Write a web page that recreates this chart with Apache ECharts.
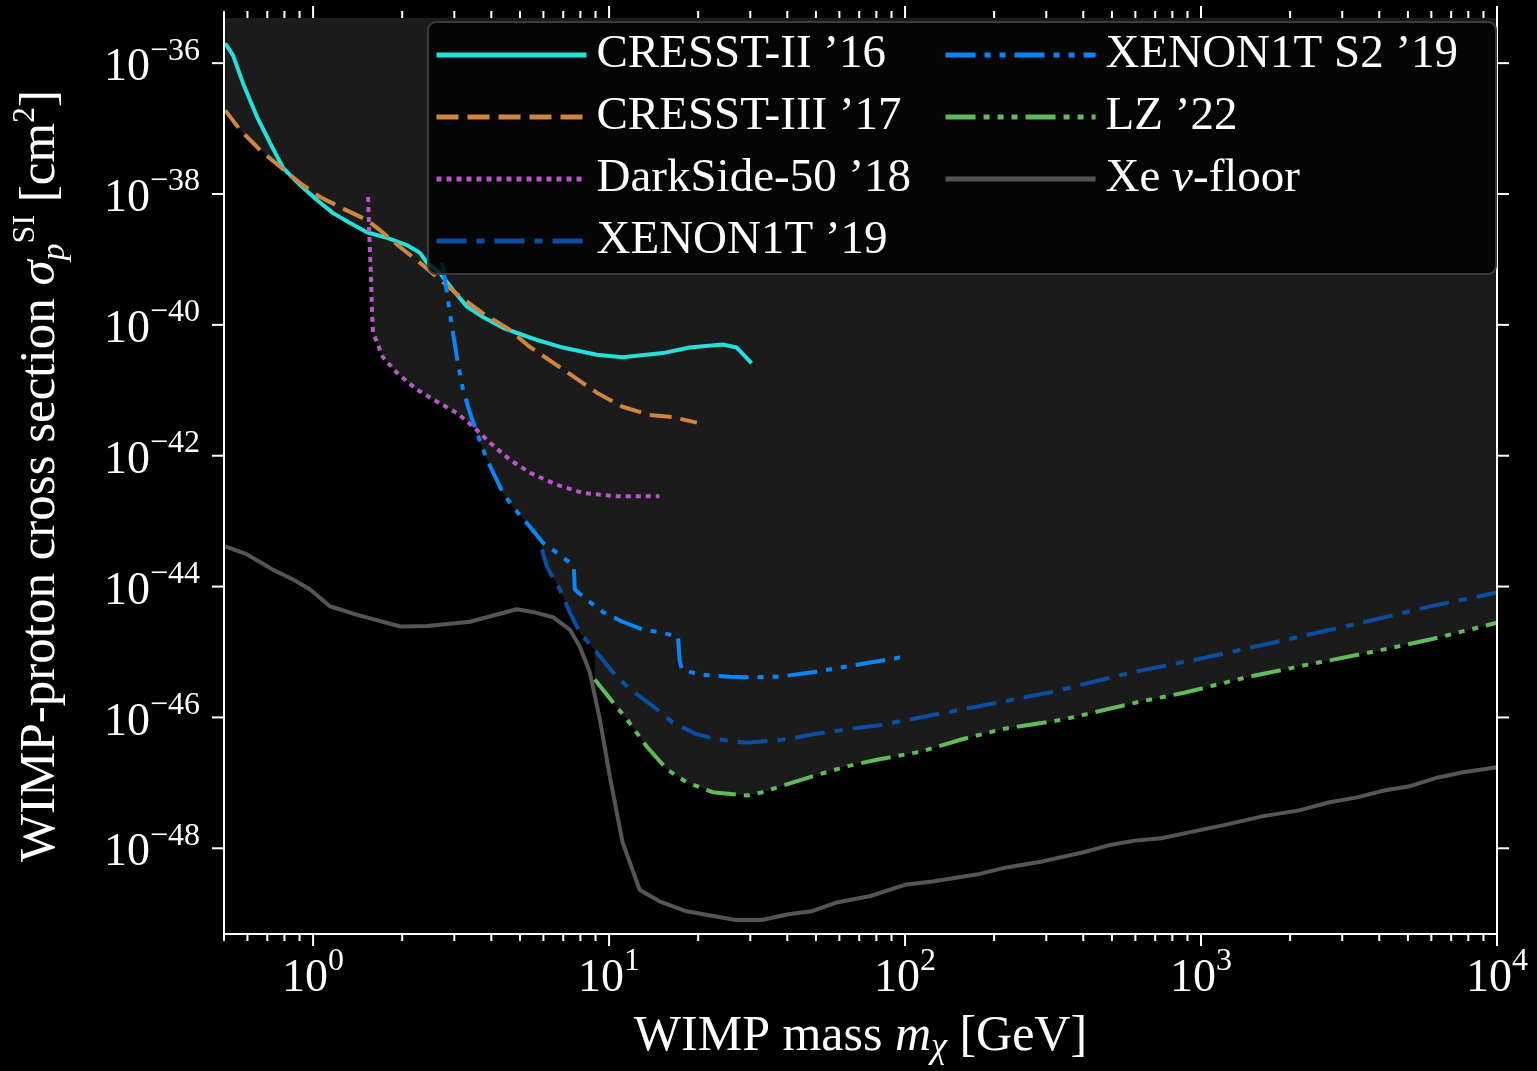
<!DOCTYPE html>
<html>
<head>
<meta charset="utf-8">
<title>WIMP-proton exclusion limits</title>
<script src="https://cdn.jsdelivr.net/npm/echarts@6/dist/echarts.min.js"></script>
<style>
  html, body { margin: 0; padding: 0; background: #000; }
  #chart { width: 1537px; height: 1071px; }
</style>
</head>
<body>
<div id="chart"></div>
<script>
// [WIMP mass (GeV), cross section (cm^2)]
const cresst2 = [
  [0.505, 2.0e-36], [0.537, 1.3e-36], [0.58, 4.9e-37], [0.647, 1.5e-37], [0.716, 6.0e-38],
  [0.792, 2.5e-38], [0.904, 1.37e-38], [1.03, 8.1e-39], [1.168, 5.1e-39], [1.333, 3.6e-39],
  [1.52, 2.6e-39], [1.778, 2.13e-39], [2.075, 1.66e-39], [2.296, 1.26e-39], [2.426, 8.9e-40],
  [2.683, 6.2e-40], [2.97, 3.4e-40], [3.31, 1.9e-40], [3.75, 1.32e-40], [4.38, 9.0e-41],
  [5.11, 7.0e-41], [5.7, 5.9e-41], [6.98, 4.5e-41], [9.09, 3.5e-41], [11.1, 3.2e-41],
  [15.2, 3.7e-41], [18.7, 4.5e-41], [24.2, 5.0e-41], [27.0, 4.5e-41], [30.3, 2.6e-41]
];
const cresst3 = [
  [0.505, 1.9e-37], [0.567, 9.5e-38], [0.662, 4.7e-38], [0.774, 2.6e-38], [0.904, 1.47e-38],
  [1.056, 9.0e-39], [1.233, 6.3e-39], [1.52, 4.0e-39], [1.683, 2.8e-39], [1.966, 1.55e-39],
  [2.296, 8.9e-40], [2.683, 4.9e-40], [3.135, 2.7e-40], [3.75, 1.5e-40], [4.52, 9.0e-41],
  [5.4, 4.6e-41], [6.98, 2.1e-41], [9.09, 9.2e-42], [11.1, 5.6e-42], [13.7, 4.2e-42],
  [16.4, 3.9e-42], [19.8, 3.2e-42]
];
const darkside = [
  [1.534, 9.0e-39], [1.546, 2.8e-39], [1.57, 4.9e-40], [1.582, 1.5e-40], [1.594, 7.6e-41],
  [1.722, 3.2e-41], [1.92, 1.85e-41], [2.244, 1.02e-41], [2.623, 6.7e-42], [3.06, 4.5e-42],
  [3.47, 2.8e-42], [3.96, 1.58e-42], [4.62, 8.7e-43], [5.4, 5.5e-43], [6.66, 3.6e-43],
  [8.15, 2.7e-43], [10.6, 2.4e-43], [14.8, 2.4e-43]
];
const xenon1t = [
  [5.93, 3.7e-44], [6.17, 2.0e-44], [6.82, 9.0e-45], [7.37, 4.0e-45], [7.96, 2.0e-45],
  [9.09, 9.8e-46], [10.3, 4.9e-46], [11.75, 2.7e-46], [14.1, 1.47e-46], [16.4, 8.4e-47],
  [19.8, 5.5e-47], [23.6, 4.6e-47], [29.2, 4.1e-47], [37.7, 4.5e-47], [48.7, 5.5e-47],
  [63.5, 6.6e-47], [82.0, 7.6e-47], [176, 1.47e-46], [320, 2.5e-46], [586, 4.9e-46],
  [1033, 8.2e-46], [1954, 1.55e-45], [3474, 2.8e-45], [6324, 5.3e-45], [10000, 8.1e-45]
];
const xenon1tS2 = [
  [2.726, 8.9e-40], [2.79, 4.9e-40], [2.9, 1.5e-40], [3.06, 3.2e-41], [3.21, 1.02e-41],
  [3.39, 4.5e-42], [3.58, 2.2e-42], [3.87, 8.7e-43], [4.38, 2.7e-43], [4.73, 1.66e-43],
  [5.4, 8.2e-44], [5.97, 4.7e-44], [6.66, 3.3e-44], [7.48, 2.2e-44], [7.6, 2.0e-44],
  [7.66, 9.0e-45], [8.41, 6.3e-45], [9.53, 4.1e-45], [11.1, 2.9e-45], [13.0, 2.2e-45],
  [14.8, 2.0e-45], [17.1, 1.73e-45], [17.3, 7.7e-46], [17.6, 5.4e-46], [20.3, 4.5e-46],
  [25.6, 4.2e-46], [29.9, 4.1e-46], [37.7, 4.2e-46], [48.7, 4.9e-46], [63.5, 6.0e-46],
  [99.6, 8.5e-46]
];
const lz = [
  [8.95, 3.8e-46], [10.3, 1.7e-46], [11.5, 9.3e-47], [13.4, 3.6e-47], [15.7, 1.6e-47],
  [18.3, 1.02e-47], [22.4, 7.2e-48], [29.2, 6.4e-48], [33.0, 7.2e-48], [39.8, 9.5e-48],
  [48.7, 1.26e-47], [63.5, 1.79e-47], [82.0, 2.3e-47], [113, 3.0e-47], [155, 4.6e-47],
  [212, 6.6e-47], [343, 9.3e-47], [624, 1.75e-46], [885, 2.4e-46], [1422, 4.1e-46],
  [2213, 6.2e-46], [3698, 9.8e-46], [5943, 1.55e-45], [10000, 2.8e-45]
];
const xeFloor = [
  [0.505, 4.1e-44], [0.599, 3.1e-44], [0.733, 1.8e-44], [0.856, 1.28e-44], [0.977, 9.0e-45],
  [1.14, 5.0e-45], [1.41, 3.7e-45], [1.97, 2.45e-45], [2.43, 2.5e-45], [3.39, 2.9e-45],
  [4.88, 4.5e-45], [5.53, 4.1e-45], [6.46, 3.4e-45], [7.37, 2.2e-45], [7.96, 1.21e-45],
  [8.61, 4.9e-46], [9.31, 9.3e-47], [10.06, 1.26e-47], [11.1, 1.24e-48], [12.7, 2.3e-49],
  [14.8, 1.55e-49], [18.3, 1.09e-49], [26.8, 8.0e-50], [32.8, 8.0e-50], [40.4, 9.8e-50],
  [48.3, 1.09e-49], [59.2, 1.5e-49], [75.9, 1.85e-49], [101, 2.8e-49], [124, 3.1e-49],
  [176, 4.0e-49], [220, 5.1e-49], [291, 6.3e-49], [401, 8.7e-49], [487, 1.11e-48],
  [604, 1.32e-48], [734, 1.42e-48], [912, 1.75e-48], [1216, 2.3e-48], [1622, 3.1e-48],
  [2146, 3.8e-48], [2690, 5.0e-48], [3367, 6.0e-48], [4188, 7.7e-48], [5085, 8.9e-48],
  [6324, 1.21e-47], [7680, 1.45e-47], [10000, 1.73e-47]
];

const X_MIN = 0.5;
const X_MAX = 1e4;
const Y_EXP_MIN = -49.31;
const Y_EXP_MAX = -35.31;
const Y_MIN = Math.pow(10, Y_EXP_MIN);
const Y_MAX = Math.pow(10, Y_EXP_MAX);

// tick positions
const xMajorTicks = [1, 10, 100, 1000, 10000];
const xMinorTicks = [];
for (let d = 0.1; d < X_MAX; d *= 10) {
  for (let k = 2; k <= 9; k++) {
    const v = +(k * d).toPrecision(3);
    if (v >= X_MIN && v < X_MAX) xMinorTicks.push(v);
  }
}
const yMajorTicks = [1e-48, 1e-46, 1e-44, 1e-42, 1e-40, 1e-38, 1e-36];

const FONT = "'Liberation Serif', 'DejaVu Serif', serif";
const SHADE = '#1b1b1b';

const experiments = [
  { name: 'CRESST-II ’16', data: cresst2, color: '#25e0da', type: 'solid' },
  { name: 'CRESST-III ’17', data: cresst3, color: '#cd853f', type: [22, 9] },
  { name: 'DarkSide-50 ’18', data: darkside, color: '#bb55cc', type: [5, 5] },
  { name: 'XENON1T ’19', data: xenon1t, color: '#0a4ea3', type: [30, 10, 8, 10] },
  { name: 'XENON1T S2 ’19', data: xenon1tS2, color: '#0a85f5', type: [30, 9, 6, 9, 6, 9] },
  { name: 'LZ ’22', data: lz, color: '#5fba5a', type: [30, 8, 6, 8, 6, 8, 6, 8] }
];

const series = [];
// excluded region: everything above each limit curve, up to the top of the frame
experiments.forEach(function (e) {
  series.push({
    type: 'custom',
    name: 'excl ' + e.name,
    silent: true,
    clip: true,
    z: 1,
    encode: { x: 0, y: 1 },
    data: e.data,
    renderItem: function (params, api) {
      if (params.dataIndex !== 0) return null;
      const pts = e.data.map(p => api.coord(p));
      const top = api.coord([e.data[0][0], Y_MAX])[1];
      pts.push([pts[pts.length - 1][0], top]);
      pts.push([pts[0][0], top]);
      return { type: 'polygon', shape: { points: pts }, style: { fill: SHADE } };
    }
  });
});
experiments.forEach(function (e) {
  series.push({
    type: 'line',
    name: e.name,
    data: e.data,
    symbol: 'none',
    z: 3,
    lineStyle: { color: e.color, width: 4, type: e.type, cap: 'butt' },
    itemStyle: { color: e.color }
  });
});
series.push({
  type: 'line',
  name: 'Xe ν-floor',
  data: xeFloor,
  symbol: 'none',
  z: 2,
  lineStyle: { color: '#555555', width: 4 },
  itemStyle: { color: '#555555' }
});

// tick marks on all four sides
const tickStyle = { stroke: '#fff', lineWidth: 2 };
series.push({
  type: 'custom',
  name: 'xticks',
  silent: true,
  clip: false,
  z: 5,
  encode: { x: 0, y: 1 },
  data: xMajorTicks.map(v => [v, Y_MIN, 12]).concat(xMinorTicks.map(v => [v, Y_MIN, 7])),
  renderItem: function (params, api) {
    const x = api.value(0);
    const len = api.value(2);
    const b = api.coord([x, Y_MIN]);
    const t = api.coord([x, Y_MAX]);
    return {
      type: 'group',
      children: [
        { type: 'line', shape: { x1: b[0], y1: b[1], x2: b[0], y2: b[1] + len }, style: tickStyle },
        { type: 'line', shape: { x1: t[0], y1: t[1], x2: t[0], y2: t[1] - len }, style: tickStyle }
      ]
    };
  }
});
series.push({
  type: 'custom',
  name: 'yticks',
  silent: true,
  clip: false,
  z: 5,
  encode: { x: 0, y: 1 },
  data: yMajorTicks.map(v => [X_MIN, v]),
  renderItem: function (params, api) {
    const y = api.value(1);
    const l = api.coord([X_MIN, y]);
    const r = api.coord([X_MAX, y]);
    return {
      type: 'group',
      children: [
        { type: 'line', shape: { x1: l[0], y1: l[1], x2: l[0] - 12, y2: l[1] }, style: tickStyle },
        { type: 'line', shape: { x1: r[0], y1: r[1], x2: r[0] + 12, y2: r[1] }, style: tickStyle }
      ]
    };
  }
});

const powRich = {
  b: { fontFamily: FONT, fontSize: 46, color: '#fff', lineHeight: 56, verticalAlign: 'bottom' },
  e: { fontFamily: FONT, fontSize: 32, color: '#fff', lineHeight: 32, verticalAlign: 'top' }
};
function powLabel(exp) {
  const r = Math.round(exp);
  if (Math.abs(exp - r) > 1e-6) return '';
  return '{b|10}{e|' + (r < 0 ? '−' + Math.abs(r) : r) + '}';
}

const frameLine = { show: true, lineStyle: { color: '#fff', width: 2 } };

const option = {
  backgroundColor: '#000',
  animation: false,
  grid: { left: 224, right: 40, top: 18, bottom: 136 },
  legend: {
    orient: 'vertical',
    left: 428,
    top: 22,
    height: 240,
    itemGap: 12,
    itemWidth: 150,
    itemHeight: 20,
    padding: [8, 18, 8, 6],
    backgroundColor: 'rgba(0,0,0,0.8)',
    borderColor: '#3a3a3a',
    borderWidth: 2,
    borderRadius: 8,
    z: 6,
    itemStyle: { opacity: 0 },
    lineStyle: { width: 5 },
    data: ['CRESST-II ’16', 'CRESST-III ’17', 'DarkSide-50 ’18', 'XENON1T ’19',
      'XENON1T S2 ’19', 'LZ ’22', 'Xe ν-floor'],
    formatter: function (name) {
      return name === 'Xe ν-floor' ? 'Xe {n|ν}-floor' : name;
    },
    textStyle: {
      color: '#fff', fontFamily: FONT, fontSize: 47, lineHeight: 50,
      padding: [0, 20, 0, 5],
      rich: { n: { color: '#fff', fontFamily: FONT, fontSize: 47, fontStyle: 'italic' } }
    }
  },
  xAxis: [
    {
      type: 'log', logBase: 10, min: X_MIN, max: X_MAX, position: 'bottom', z: 4,
      axisLine: frameLine,
      axisTick: { show: false },
      splitLine: { show: false },
      axisLabel: {
        margin: 12,
        formatter: v => powLabel(Math.log10(v)),
        rich: powRich
      },
      name: '{t|WIMP mass }{i|m}{s|χ}{t| [GeV]}',
      nameLocation: 'middle',
      nameGap: 74,
      nameTextStyle: {
        rich: {
          t: { fontFamily: FONT, fontSize: 50, color: '#fff', lineHeight: 58 },
          i: { fontFamily: FONT, fontSize: 50, color: '#fff', lineHeight: 58, fontStyle: 'italic' },
          s: { fontFamily: FONT, fontSize: 36, color: '#fff', lineHeight: 34, fontStyle: 'italic', verticalAlign: 'bottom' }
        }
      }
    },
    {
      type: 'log', logBase: 10, min: X_MIN, max: X_MAX, position: 'top', z: 4,
      axisLine: frameLine,
      axisTick: { show: false },
      splitLine: { show: false },
      axisLabel: { show: false }
    }
  ],
  yAxis: [
    {
      type: 'log', logBase: 10, min: Y_MIN, max: Y_MAX, position: 'left', z: 4,
      axisLine: frameLine,
      axisTick: { show: false },
      splitLine: { show: false },
      axisLabel: { show: false },
      name: '{t|WIMP-proton cross section }{i|σ}{sub|p}{sup|SI}{t| [cm}{sup2|2}{t|]}',
      nameLocation: 'middle',
      nameRotate: 90,
      nameGap: 152,
      nameTextStyle: {
        rich: {
          t: { fontFamily: FONT, fontSize: 51, color: '#fff', lineHeight: 62 },
          i: { fontFamily: FONT, fontSize: 51, color: '#fff', lineHeight: 62, fontStyle: 'italic' },
          sub: { fontFamily: FONT, fontSize: 34, color: '#fff', lineHeight: 30, fontStyle: 'italic', verticalAlign: 'bottom' },
          sup: { fontFamily: FONT, fontSize: 32, color: '#fff', lineHeight: 30, verticalAlign: 'top' },
          sup2: { fontFamily: FONT, fontSize: 32, color: '#fff', lineHeight: 30, verticalAlign: 'top' }
        }
      }
    },
    {
      type: 'log', logBase: 10, min: Y_MIN, max: Y_MAX, position: 'right', z: 4,
      axisLine: frameLine,
      axisTick: { show: false },
      splitLine: { show: false },
      axisLabel: { show: false }
    },
    {
      // exponent scale, only used to place the 10^n labels
      type: 'value', min: Y_EXP_MIN, max: Y_EXP_MAX, splitNumber: 7, position: 'left',
      axisLine: { show: false },
      axisTick: { show: false },
      splitLine: { show: false },
      axisLabel: {
        margin: 24,
        formatter: v => powLabel(v),
        rich: powRich
      }
    }
  ],
  series: series
};

const chart = echarts.init(document.getElementById('chart'));
chart.setOption(option);
</script>
</body>
</html>
